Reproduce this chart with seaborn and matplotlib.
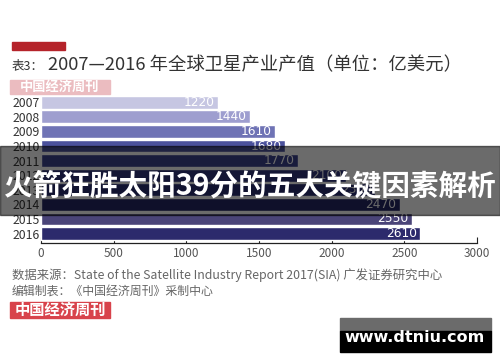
import matplotlib
matplotlib.use("Agg")
import matplotlib.pyplot as plt
import seaborn as sns
import pandas as pd
from matplotlib.patches import Rectangle

years = ["2007", "2008", "2009", "2010", "2011", "2012", "2013", "2014", "2015", "2016"]
values = [1220, 1440, 1610, 1680, 1770, 2100, 2300, 2470, 2550, 2610]
bar_colors = ["#c6c6e2", "#9e9ecf", "#6f73b5", "#4b519c", "#3d4490",
              "#303680", "#2a2e74", "#262866", "#4a4478", "#2c2a6c"]
xticks = [0, 500, 1000, 1500, 2000, 2500, 3000]

title_small = "表3："
title_main = "2007—2016 年全球卫星产业产值（单位：亿美元）"
source1 = "数据来源：State of the Satellite Industry Report 2017(SIA) 广发证券研究中心"
source2 = "编辑制表：《中国经济周刊》采制中心"
brand = "中国经济周刊"
banner = "火箭狂胜太阳39分的五大关键因素解析"
site = "www.dtniu.com"

sns.set_theme(style="white")
plt.rcParams['font.family'] = ['Noto Sans CJK SC', 'DejaVu Sans']

W, H = 500, 362
fig = plt.figure(figsize=(5, 3.62), dpi=100)
ax = fig.add_axes([41/W, 1-243/H, (477-41)/W, (243-95)/H])

df = pd.DataFrame({"year": years, "value": values})
sns.barplot(data=df, y="year", x="value", hue="year", palette=bar_colors,
            orient="h", width=0.88, legend=False, ax=ax, saturation=1)
ax.set_xlim(0, 3000)
ax.set_ylim(len(years)-0.5+0.15, -0.5)
ax.set_xticks(xticks)
ax.set_xticklabels([str(t) for t in xticks], fontsize=8.5, color="#555555")
ax.tick_params(axis="x", direction="in", length=4, width=0.8, color="#222222", pad=3, bottom=True)
ax.tick_params(axis="y", length=0, pad=1, labelsize=8.8, labelcolor="#333333")
ax.set_xlabel("")
ax.set_ylabel("")
for s in ["top", "right", "left"]:
    ax.spines[s].set_visible(False)
ax.spines["bottom"].set_color("#222222")
ax.spines["bottom"].set_linewidth(0.9)

for i, v in enumerate(values):
    ax.text(v - 25, i, str(v), ha="right", va="center", color="white", fontsize=8.8,
            family=["DejaVu Sans"])

# header
fig.patches.append(Rectangle((12/W, 1-50/H), 53/W, 8/H, transform=fig.transFigure,
                             color="#b5232a", zorder=5))
fig.text(12/W, 1-66/H, title_small, fontsize=9, color="#333333", va="center")
fig.text(48/W, 1-65/H, title_main, fontsize=13.2, color="#333333", va="center")

# pink watermark
fig.patches.append(Rectangle((10/W, 1-94/H), 100/W, 14/H, transform=fig.transFigure,
                             color="#ebbcc0", zorder=5))
fig.text(60/W, 1-87/H, brand, fontsize=9.5, color="white", weight="bold",
         ha="center", va="center", zorder=6)

# source texts
fig.text(12/W, 1-275/H, source1, fontsize=8.9, color="#666666", va="center")
fig.text(12/W, 1-291/H, source2, fontsize=8.6, color="#666666", va="center")

# red brand box
fig.patches.append(Rectangle((10/W, 1-318/H), 100/W, 16/H, transform=fig.transFigure,
                             color="#d8434b", zorder=5))
fig.text(60/W, 1-310/H, brand, fontsize=11, color="white", weight="bold",
         ha="center", va="center", zorder=6)

# banner overlay
fig.patches.append(Rectangle((0, 1-215/H), 1, 69/H, transform=fig.transFigure,
                             color="black", alpha=0.58, zorder=10))
fig.text(0.5, 1-185/H, banner, fontsize=20.6, color="white", weight="bold",
         ha="center", va="center", zorder=11)

# site watermark
fig.patches.append(Rectangle((340/W, 1-331/H), 151/W, 13/H, transform=fig.transFigure,
                             color="#6b6b6b", zorder=10))
fig.patches.append(Rectangle((340/W, 1-352/H), 151/W, 21/H, transform=fig.transFigure,
                             color="black", zorder=10))
fig.text(415/W, 1-337/H, site, fontsize=11.5, color="white", weight="bold",
         ha="center", va="center", zorder=11, family=["DejaVu Sans"])

fig.savefig("out.png", dpi=100)
